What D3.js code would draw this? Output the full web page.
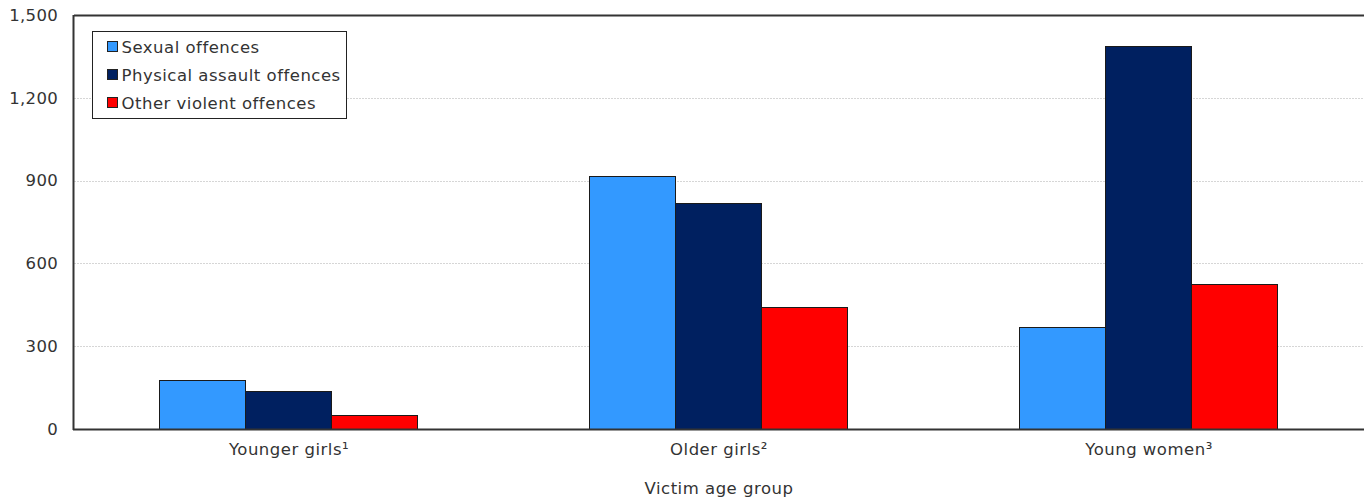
<!DOCTYPE html>
<html><head><meta charset="utf-8">
<script src="https://cdn.jsdelivr.net/npm/d3@7"></script>
<style>body{margin:0;background:#fff}svg{display:block}text{font-family:"DejaVu Sans",Verdana,sans-serif;fill:#333}</style>
</head><body>
<svg id="c" width="1364" height="499"></svg>
<script>
const categories = ["Younger girls\u00b9", "Older girls\u00b2", "Young women\u00b3"];
const seriesNames = ["Sexual offences", "Physical assault offences", "Other violent offences"];
const sexual = [179, 918, 371];
const physical = [138, 818, 1389];
const otherViolent = [49, 442, 524];
const yTicks = [0, 300, 600, 900, 1200, 1500];
const xTitle = "Victim age group";
const colors = ["#3399ff", "#002060", "#ff0000"];

const series = [sexual, physical, otherViolent];
const svg = d3.select("#c");
const m = {l:74, r:0, t:15, b:70};
const W = 1364, H = 499;
const FS = "16.5px";
const LS = "0.5px";
const x0 = d3.scaleBand().domain(categories).range([m.l, W - m.r]).paddingInner(0.4).paddingOuter(0.2);
const x1 = d3.scaleBand().domain(d3.range(3)).range([0, x0.bandwidth()]);
const y = d3.scaleLinear().domain([0, 1500]).range([H - m.b, m.t]);

// gridlines
svg.append("g").selectAll("line").data(yTicks.filter(d => d > 0 && d < 1500)).join("line")
  .attr("x1", m.l).attr("x2", W).attr("y1", d => Math.round(y(d)) + 0.5).attr("y2", d => Math.round(y(d)) + 0.5)
  .attr("stroke", "#d6d6d6").attr("stroke-dasharray", "2,1");

// bars
const g = svg.append("g");
categories.forEach((c, i) => {
  series.forEach((s, j) => {
    const yy = Math.round(y(s[i]));
    g.append("rect")
      .attr("x", Math.round(x0(c) + x1(j)) - 0.5)
      .attr("y", yy + 0.5)
      .attr("width", Math.round(x1.bandwidth()))
      .attr("height", Math.round(y(0)) - yy)
      .attr("fill", colors[j]).attr("stroke", "#1a1a1a").attr("stroke-width", 1);
  });
});

// y axis
const ya = svg.append("g").attr("transform", `translate(${m.l},0)`)
  .call(d3.axisLeft(y).tickValues(yTicks).tickSize(0).tickPadding(16).tickFormat(d3.format(",")));
ya.select(".domain").remove();
ya.selectAll("text").style("font-size", FS).style("letter-spacing", "0.3px").attr("fill", "#333");

// frame lines
svg.append("line").attr("x1", m.l - 0.5).attr("x2", m.l - 0.5).attr("y1", m.t).attr("y2", y(0) + 1).attr("stroke", "#333").attr("stroke-width", 2);
svg.append("line").attr("x1", m.l).attr("x2", W).attr("y1", m.t + 0.5).attr("y2", m.t + 0.5).attr("stroke", "#333").attr("stroke-width", 2);
svg.append("line").attr("x1", m.l - 1).attr("x2", W).attr("y1", Math.round(y(0)) + 0.5).attr("y2", Math.round(y(0)) + 0.5).attr("stroke", "#333").attr("stroke-width", 2);

// x axis labels
const xa = svg.append("g").attr("transform", `translate(0,${y(0)})`)
  .call(d3.axisBottom(x0).tickSize(0).tickPadding(14));
xa.select(".domain").remove();
xa.selectAll("text").style("font-size", FS).style("letter-spacing", LS).attr("fill", "#333");

svg.append("text").attr("x", x0(categories[1]) + x0.bandwidth() / 2).attr("y", 494)
  .attr("text-anchor", "middle").style("font-size", FS).style("letter-spacing", LS).text(xTitle);

// legend
const lg = svg.append("g").attr("transform", "translate(92.5,31.5)");
lg.append("rect").attr("width", 254).attr("height", 87).attr("fill", "#fff").attr("stroke", "#222");
seriesNames.forEach((n, i) => {
  lg.append("rect").attr("x", 15).attr("y", 10 + i * 28).attr("width", 10).attr("height", 10)
    .attr("fill", colors[i]).attr("stroke", "#222");
  lg.append("text").attr("x", 29).attr("y", 21 + i * 28).style("font-size", FS).style("letter-spacing", LS).text(n);
});
</script>
</body></html>
